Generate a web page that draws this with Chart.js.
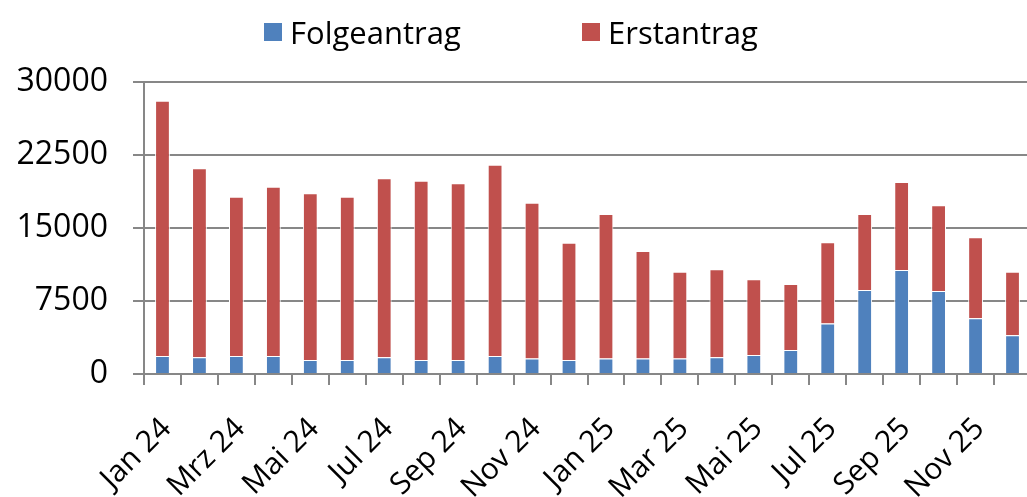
<!DOCTYPE html>
<html>
<head>
<meta charset="utf-8">
<script src="https://cdn.jsdelivr.net/npm/chart.js@4"></script>
<style>
  html, body { margin: 0; padding: 0; background: #fff; overflow: hidden; }
  #wrap { position: relative; width: 1027px; height: 497px; overflow: hidden; }
  #chart { position: absolute; left: 0; top: 0; }
  .legend-item { position: absolute; top: 11px; display: flex; align-items: center;
    font-family: 'Open Sans', sans-serif; font-size: 31px; color: #000; }
  .legend-box { width: 18px; height: 18px; margin-right: 8px; }
</style>
</head>
<body>
<div id="wrap">
  <canvas id="chart" width="1040" height="497"></canvas>
  <div id="legend"></div>
</div>
<script>
const months = ['Jan 24', 'Feb 24', 'Mrz 24', 'Apr 24', 'Mai 24', 'Jun 24', 'Jul 24', 'Aug 24', 'Sep 24', 'Okt 24', 'Nov 24', 'Dez 24',
                'Jan 25', 'Feb 25', 'Mar 25', 'Apr 25', 'Mai 25', 'Jun 25', 'Jul 25', 'Aug 25', 'Sep 25', 'Okt 25', 'Nov 25', 'Dez 25'];
const folgeantrag = [1850, 1710, 1850, 1850, 1440, 1440, 1710, 1440, 1440, 1850, 1580, 1440,
                     1580, 1580, 1580, 1710, 1950, 2470, 5200, 8630, 10690, 8530, 5720, 3970];
const erstantrag = [26230, 19420, 16370, 17400, 17120, 16780, 18390, 18420, 18150, 19650, 16020, 12050,
                    14860, 11060, 8930, 9040, 7780, 6780, 8330, 7810, 9040, 8800, 8320, 6540];
const yTicks = [0, 7500, 15000, 22500, 30000];

const gridColor = '#878787';
Chart.defaults.font.family = "'Open Sans', sans-serif";
Chart.defaults.color = '#000';

const ctx = document.getElementById('chart').getContext('2d');
const chart = new Chart(ctx, {
  type: 'bar',
  data: {
    labels: months,
    datasets: [
      { label: 'Folgeantrag', data: folgeantrag, backgroundColor: '#4F81BD', borderColor: '#ffffff', borderWidth: 1 },
      { label: 'Erstantrag', data: erstantrag, backgroundColor: '#C0504D', borderColor: '#ffffff', borderWidth: 1 }
    ]
  },
  options: {
    responsive: false,
    animation: false,
    layout: { padding: { top: 82, right: 9, left: 0, bottom: 0 } },
    datasets: { bar: { barPercentage: 0.4, categoryPercentage: 1.0 } },
    plugins: { legend: { display: false }, tooltip: { enabled: false } },
    scales: {
      x: {
        stacked: true,
        afterFit: axis => {
          axis.height = 123;
          // plot runs to the right edge; rotated labels must not shrink it
          axis.paddingLeft = 0;
          axis.paddingRight = 0;
        },
        grid: { drawOnChartArea: false, drawTicks: true, tickLength: 11, color: gridColor, lineWidth: 2 },
        border: { color: gridColor, width: 2 },
        ticks: {
          autoSkip: false, maxRotation: 45, minRotation: 45, padding: 26, labelOffset: 4,
          font: { size: 30 },
          callback: (v, i) => i % 2 === 0 ? months[i] : ''
        }
      },
      y: {
        stacked: true,
        min: 0, max: 30000,
        afterFit: axis => { axis.width = 144; },
        afterBuildTicks: axis => { axis.ticks = yTicks.map(v => ({ value: v })); },
        grid: { color: gridColor, lineWidth: 2, tickLength: 11 },
        border: { color: gridColor, width: 2 },
        ticks: { font: { size: 32 }, padding: 25, callback: v => String(v) }
      }
    }
  }
});

// legend built from the datasets
const legendLeft = [264, 582];
const legend = document.getElementById('legend');
chart.data.datasets.forEach((ds, i) => {
  const item = document.createElement('div');
  item.className = 'legend-item';
  item.style.left = legendLeft[i] + 'px';
  const box = document.createElement('span');
  box.className = 'legend-box';
  box.style.background = ds.backgroundColor;
  item.appendChild(box);
  item.appendChild(document.createTextNode(ds.label));
  legend.appendChild(item);
});
</script>
</body>
</html>
